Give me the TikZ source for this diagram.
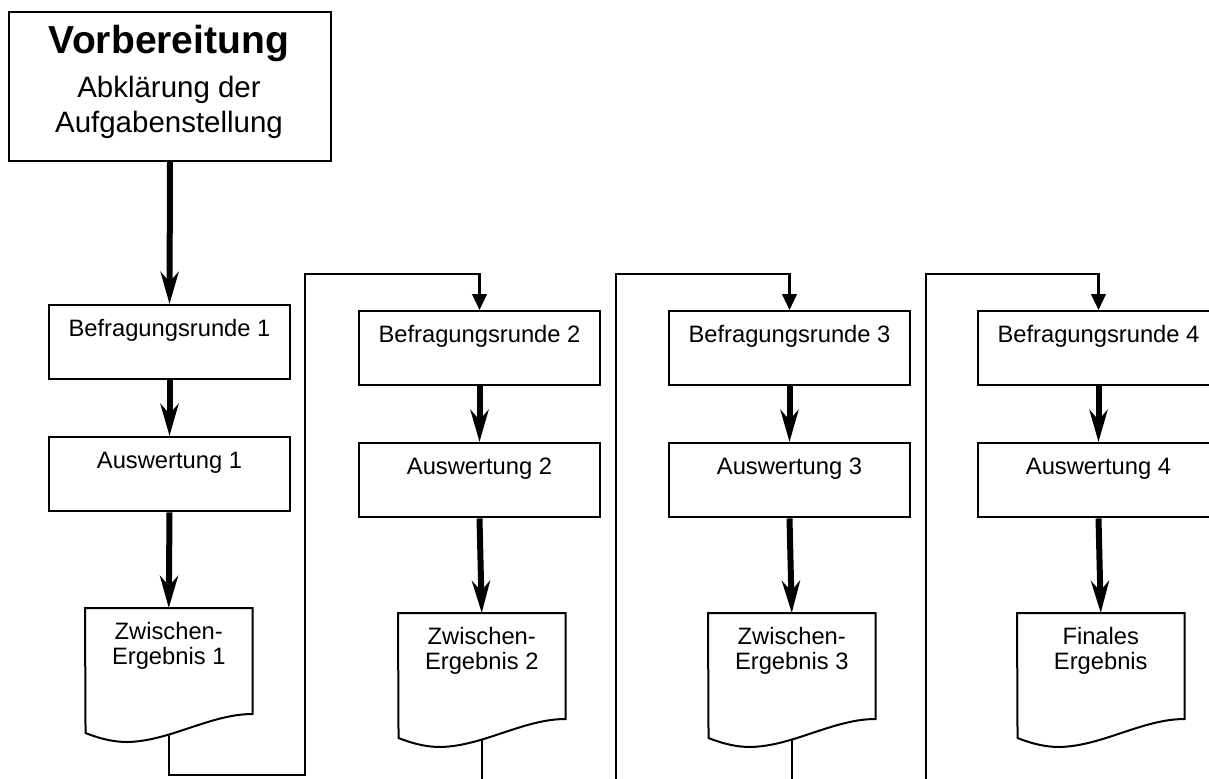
\documentclass[tikz,border=0pt]{standalone}
\usepackage{fontspec}
\setmainfont{Liberation Sans}
\usetikzlibrary{arrows.meta,calc}
\begin{document}
\begin{tikzpicture}[x=0.75pt,y=-0.75pt,
  box/.style={draw, line width=1.5pt, rectangle, anchor=north west,
    minimum width=180.75pt, inner xsep=0pt, inner ysep=0pt,
    text height=23.25pt, text depth=32.6pt,
    font=\fontsize{17.8pt}{21pt}\selectfont},
  prepbox/.style={draw, line width=1.5pt, rectangle, anchor=north west,
    minimum width=241.5pt, minimum height=111.75pt, inner sep=0pt},
  preptext/.style={anchor=base, inner sep=0pt,
    font=\fontsize{22.1pt}{26.25pt}\selectfont},
  docbox/.style={rectangle, anchor=north west, minimum width=125.25pt,
    minimum height=79.1pt, inner sep=0pt},
  doctext/.style={anchor=base, inner sep=0pt,
    font=\fontsize{17.8pt}{18.75pt}\selectfont},
  docline/.style={line width=1.5pt, line join=miter},
  flow/.style={line width=4.5pt, -{Stealth[length=24pt,width=13.5pt,inset=7.5pt]}},
  conn/.style={line width=1.75pt, -{Triangle[length=12pt,width=11pt]}}
]
\fill[white] (0,0) rectangle (1209,778);
\useasboundingbox (0,0) rectangle (1209,778);

% preparation box
\node[prepbox] (prep) at (8,11) {};
\node[preptext] (prept) at (169,53) {\begin{tabular}[t]{@{}c@{}}{\fontsize{29.3pt}{33pt}\selectfont\bfseries Vorbereitung}\\[6.75pt]Abklärung der\\Aufgabenstellung\end{tabular}};

% column boxes
\node[box] (b1) at (48,304) {Befragungsrunde 1};
\node[box] (a1) at (48,436) {Auswertung 1};
\node[docbox] (d1) at (85,608) {};
\node[doctext] (d1t) at ($(d1.north)+(0,31)$) {\begin{tabular}[t]{@{}c@{}}Zwischen-\\Ergebnis 1\end{tabular}};

\node[box] (b2) at (358,310) {Befragungsrunde 2};
\node[box] (a2) at (358,442) {Auswertung 2};
\node[docbox] (d2) at (398,613) {};
\node[doctext] (d2t) at ($(d2.north)+(0,31)$) {\begin{tabular}[t]{@{}c@{}}Zwischen-\\Ergebnis 2\end{tabular}};

\node[box] (b3) at (668,310) {Befragungsrunde 3};
\node[box] (a3) at (668,442) {Auswertung 3};
\node[docbox] (d3) at (708,613) {};
\node[doctext] (d3t) at ($(d3.north)+(0,31)$) {\begin{tabular}[t]{@{}c@{}}Zwischen-\\Ergebnis 3\end{tabular}};

\node[box] (b4) at (977,310) {Befragungsrunde 4};
\node[box] (a4) at (977,442) {Auswertung 4};
\node[docbox] (d4) at (1017,613) {};
\node[doctext] (d4t) at ($(d4.north)+(0,31)$) {\begin{tabular}[t]{@{}c@{}}Finales\\Ergebnis\end{tabular}};

% document outlines
\foreach \d in {d1,d2,d3,d4}{
  \draw[docline] (\d.north west) -- (\d.north east) -- (\d.south east)
    .. controls ($(\d.south east)+(-42,0)$) and ($(\d.south east)+(-82,27)$) .. ($(\d.south east)+(-125,28)$)
    .. controls ($(\d.south east)+(-142,28)$) and ($(\d.south east)+(-157,23)$) .. ($(\d.south east)+(-167,19)$)
    -- cycle;
  \coordinate (\d b) at ($(\d.south)+(0,20)$);
}

% thick flow arrows
\draw[flow] (prep.south) -- (b1.north);
\draw[flow] (b1.south) -- (a1.north);
\draw[flow] (a1.south) -- (d1.north);
\draw[flow] (b2.south) -- (a2.north);
\draw[flow] (a2.south) -- (d2.north);
\draw[flow] (b3.south) -- (a3.north);
\draw[flow] (a3.south) -- (d3.north);
\draw[flow] (b4.south) -- (a4.north);
\draw[flow] (a4.south) -- (d4.north);

% connectors between rounds
\coordinate (l1b) at (305,775);
\coordinate (l1t) at (305,274);
\coordinate (l2b) at (616,800);
\coordinate (l2t) at (616,274);
\coordinate (l3b) at (926,800);
\coordinate (l3t) at (926,274);
\draw[conn] (d1b) |- (l1b) -- (l1t) -| (b2.north);
\draw[conn] (d2b) |- (l2b) -- (l2t) -| (b3.north);
\draw[conn] (d3b) |- (l3b) -- (l3t) -| (b4.north);
\end{tikzpicture}
\end{document}
